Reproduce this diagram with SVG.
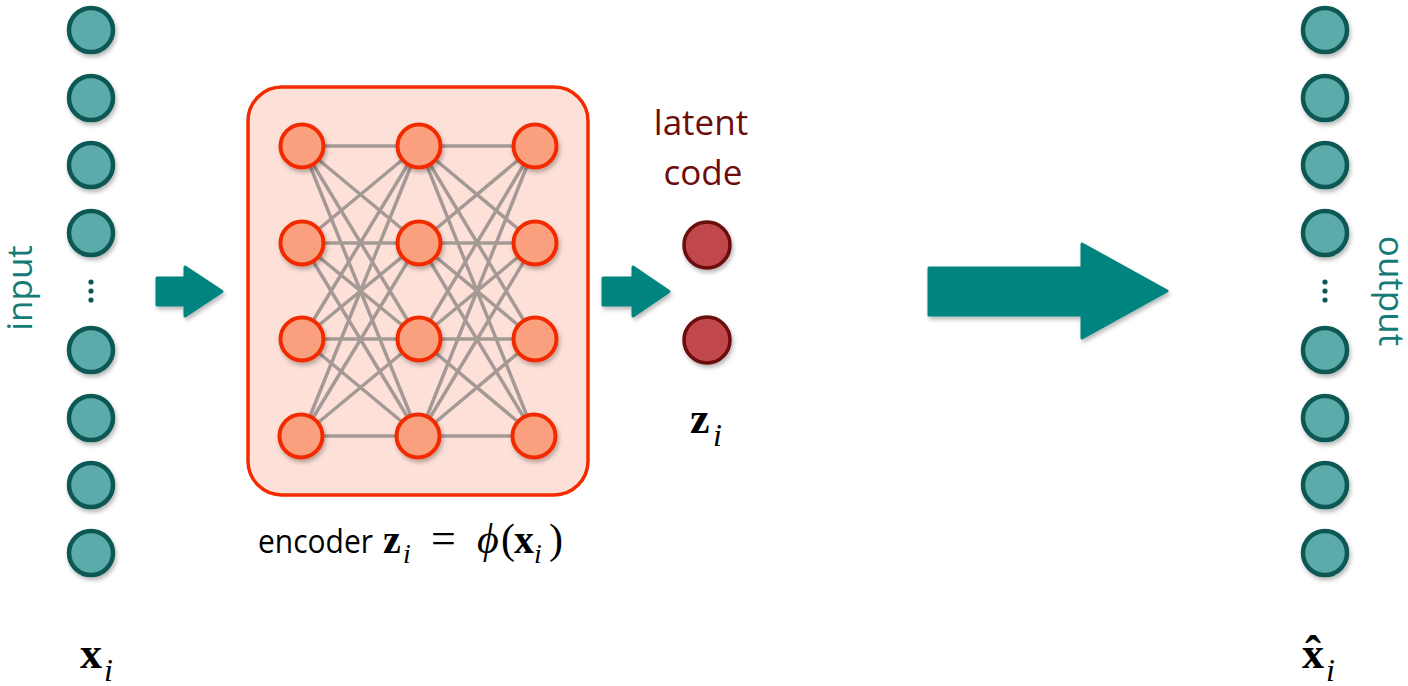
<svg xmlns="http://www.w3.org/2000/svg" width="1408" height="686" viewBox="0 0 1408 686">
<defs>
<filter id="sh" x="-30%" y="-30%" width="160%" height="160%">
<feDropShadow dx="1.5" dy="3" stdDeviation="2" flood-color="#000" flood-opacity="0.28"/>
</filter>
<style>
.io{fill:#5aabaa;stroke:#0b5855;stroke-width:4.5;filter:url(#sh)}
.nn{fill:#fba07f;stroke:#f22c00;stroke-width:4;filter:url(#sh)}
.lat{fill:#c0464b;stroke:#6a0b0b;stroke-width:3.5;filter:url(#sh)}
.arr{fill:#00847f;stroke:#00847f;stroke-width:3;stroke-linejoin:round;filter:url(#sh)}
.edge{stroke:#666;stroke-opacity:0.58;stroke-width:3.5;fill:none}
.dot{fill:#0b5855}
.lbl{font-family:"Open Sans","Noto Sans",sans-serif}
.mb{font-family:"Liberation Serif",serif;font-weight:bold;fill:#000}
.mi{font-family:"Liberation Serif",serif;font-style:italic;fill:#000}
</style>
</defs>
<rect width="1408" height="686" fill="#fff"/>

<g id="input-layer">
<circle class="io" cx="91" cy="30" r="22"/>
<circle class="io" cx="91" cy="98" r="22"/>
<circle class="io" cx="91" cy="165" r="22"/>
<circle class="io" cx="91" cy="233" r="22"/>
<circle class="dot" cx="91" cy="282" r="2.6"/>
<circle class="dot" cx="91" cy="291" r="2.6"/>
<circle class="dot" cx="91" cy="300" r="2.6"/>
<circle class="io" cx="91" cy="350" r="22"/>
<circle class="io" cx="91" cy="418" r="22"/>
<circle class="io" cx="91" cy="485" r="22"/>
<circle class="io" cx="91" cy="553" r="22"/>
<text class="lbl" transform="translate(32,288) rotate(-90)" text-anchor="middle" font-size="35" fill="#167a76">input</text>
<text class="mb" x="80" y="668" font-size="44">x</text>
<text class="mi" x="104" y="681" font-size="32">i</text>
</g>

<g id="encoder">
<rect x="248" y="87" width="340" height="408" rx="34" ry="34" fill="#fde1d9" stroke="#f22c00" stroke-width="3.5"/>
<g id="encoder-edges">
<path class="edge" d="M302,146L419,146M302,146L419,243M302,146L419,339M302,146L419,436M302,243L419,146M302,243L419,243M302,243L419,339M302,243L419,436M302,339L419,146M302,339L419,243M302,339L419,339M302,339L419,436M302,436L419,146M302,436L419,243M302,436L419,339M302,436L419,436M419,146L535,146M419,146L535,243M419,146L535,339M419,146L535,436M419,243L535,146M419,243L535,243M419,243L535,339M419,243L535,436M419,339L535,146M419,339L535,243M419,339L535,339M419,339L535,436M419,436L535,146M419,436L535,243M419,436L535,339M419,436L535,436"/>
</g>
<circle class="nn" cx="302" cy="146" r="21.5"/>
<circle class="nn" cx="302" cy="243" r="21.5"/>
<circle class="nn" cx="302" cy="339" r="21.5"/>
<circle class="nn" cx="301" cy="436" r="21.5"/>
<circle class="nn" cx="419" cy="146" r="21.5"/>
<circle class="nn" cx="419" cy="243" r="21.5"/>
<circle class="nn" cx="419" cy="339" r="21.5"/>
<circle class="nn" cx="418" cy="436" r="21.5"/>
<circle class="nn" cx="535" cy="146" r="21.5"/>
<circle class="nn" cx="535" cy="243" r="21.5"/>
<circle class="nn" cx="535" cy="339" r="21.5"/>
<circle class="nn" cx="534" cy="436" r="21.5"/>
<text class="lbl" x="258" y="553" font-size="33" textLength="115" lengthAdjust="spacingAndGlyphs" fill="#000">encoder</text>
<text class="mb" x="383" y="553" font-size="40">z</text>
<text class="mi" x="403" y="563" font-size="28">i</text>
<text x="431" y="553" font-family="Liberation Serif,serif" font-size="44">=</text>
<text class="mi" x="477" y="553" font-size="42" font-family="DejaVu Serif,serif">ϕ</text>
<text x="501" y="553" font-family="Liberation Serif,serif" font-size="42">(</text>
<text class="mb" x="514" y="553" font-size="40">x</text>
<text class="mi" x="534" y="563" font-size="28">i</text>
<text x="549" y="553" font-family="Liberation Serif,serif" font-size="42">)</text>
</g>

<g id="latent">
<text class="lbl" x="701" y="135" text-anchor="middle" font-size="35" fill="#6e0b0b">latent</text>
<text class="lbl" x="703" y="185" text-anchor="middle" font-size="35" fill="#6e0b0b">code</text>
<circle class="lat" cx="707" cy="245" r="23"/>
<circle class="lat" cx="707" cy="340" r="23"/>
<text class="mb" x="690" y="433" font-size="44">z</text>
<text class="mi" x="713" y="446" font-size="32">i</text>
</g>

<g id="output-layer">
<circle class="io" cx="1325" cy="30" r="22"/>
<circle class="io" cx="1325" cy="98" r="22"/>
<circle class="io" cx="1325" cy="165" r="22"/>
<circle class="io" cx="1325" cy="233" r="22"/>
<circle class="dot" cx="1325" cy="282" r="2.6"/>
<circle class="dot" cx="1325" cy="291" r="2.6"/>
<circle class="dot" cx="1325" cy="300" r="2.6"/>
<circle class="io" cx="1325" cy="350" r="22"/>
<circle class="io" cx="1325" cy="418" r="22"/>
<circle class="io" cx="1325" cy="485" r="22"/>
<circle class="io" cx="1325" cy="553" r="22"/>
<text class="lbl" transform="translate(1379,291) rotate(90)" text-anchor="middle" font-size="35" fill="#167a76">output</text>
<text class="mb" x="1302" y="668" font-size="44">x</text>
<text class="mb" x="1305" y="670" font-size="48">ˆ</text>
<text class="mi" x="1326" y="681" font-size="32">i</text>
</g>

<g id="connectors">
<path class="arr" d="M157,278H185V267L222,291.5L185,316V305H157Z"/>
<path class="arr" d="M603,278H633V267L669,291.5L633,316V305H603Z"/>
<path class="arr" d="M929,268H1082V244L1167,291L1082,338V315H929Z"/>
</g>
</svg>
